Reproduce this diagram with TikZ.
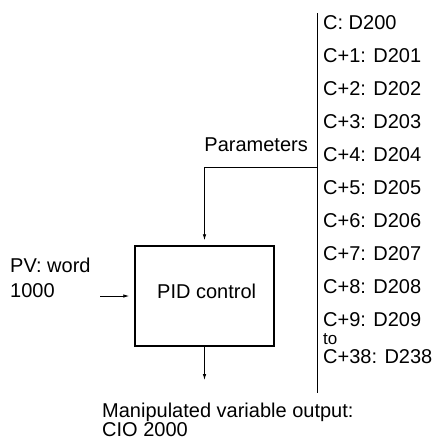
\documentclass[tikz,border=0pt]{standalone}
\usepackage{fontspec}
\setmainfont{Liberation Sans}
\usetikzlibrary{arrows.meta,positioning,calc}
\tikzset{
  lbl/.style={inner sep=0pt,anchor=base west,font=\fontsize{20}{24}\selectfont},
  wire/.style={line width=0.8pt},
  sig/.style={wire,-{Latex[length=6pt,width=3.5pt]},shorten >=5pt},
  blockbox/.style={draw,line width=1.5pt,minimum width=139pt,minimum height=100pt,inner sep=0pt}
}

\begin{document}
\begin{tikzpicture}[x=1pt,y=-1pt]
\useasboundingbox (0,0) rectangle (443,440);

% parameter word list
\coordinate (bustop) at (317,13);
\coordinate (busbot) at (317,393);
\draw[wire] (bustop) -- (busbot);
\foreach \txt [count=\i from 0] in {C: D200,C+1: D201,C+2: D202,C+3: D203,C+4: D204,
    C+5: D205,C+6: D206,C+7: D207,C+8: D208,C+9: D209}
  \node[lbl] (par\i) at (323,29+33*\i) {\txt};
\node[lbl,font=\fontsize{17}{20}\selectfont] (parto) at (323,344.5) {to};
\node[lbl] (parlast) at (323,363.5) {C+38: D238};
\node[lbl,anchor=base east] (params) at (308,151) {Parameters};

% PID block
\node[blockbox] (pid) at (204.5,296) {};
\node[lbl] (pidtxt) at (157,298) {PID control};
\coordinate (tap) at (317,167);
\draw[sig] (tap) -- (pid.north |- tap) -- (pid.north);

% input
\node[lbl] (pv) at (10,272) {PV: word};
\node[lbl] (pvnum) at (10,297) {1000};
\coordinate (pvin) at (100,296);
\draw[sig] (pvin) -- (pid.west);

% output
\coordinate (mvout) at (204.5,385);
\draw[sig] (pid.south) -- (mvout);
\node[lbl] (mv) at (102,417) {Manipulated variable output:};
\node[lbl] (mvaddr) at (102,436) {CIO 2000};
\end{tikzpicture}
\end{document}
